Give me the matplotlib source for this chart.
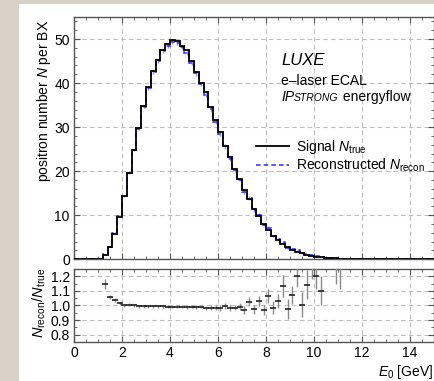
import numpy as np
import matplotlib
matplotlib.use("Agg")
import matplotlib.pyplot as plt
from matplotlib.patches import Rectangle
from matplotlib.ticker import MultipleLocator, FormatStrFormatter
from matplotlib.offsetbox import TextArea, HPacker, AnchoredOffsetbox

plt.rcParams['font.family'] = ['Liberation Sans', 'DejaVu Sans']
plt.rcParams['mathtext.fontset'] = 'custom'
plt.rcParams['mathtext.rm'] = 'Liberation Sans'
plt.rcParams['mathtext.it'] = 'Liberation Sans:italic'
plt.rcParams['mathtext.bf'] = 'Liberation Sans:bold'

# =========================
# DATA
# =========================

bin_width = 0.2
first_edge = 1.2      # first filled bin starts here
x_max = 15.0

# signal N_true per 0.2 GeV bin, bins from 1.2 GeV on
true_n = [1.0, 2.7, 5.8, 9.7, 14.4, 19.5, 24.8, 29.8, 34.8, 39.0,
          42.8, 45.3, 47.4, 48.8, 49.8, 49.5, 48.5, 47.4, 44.9, 42.6,
          40.1, 37.9, 34.5, 31.7, 29.0, 25.7, 23.3, 20.5, 18.2, 15.8,
          13.6, 11.4, 9.8, 8.0, 6.7, 5.3, 4.4, 3.5, 2.7, 2.1,
          1.7, 1.4, 1.0, 0.75, 0.6, 0.45, 0.35, 0.25, 0.2, 0.15,
          0.1, 0.05, 0.03, 0.02]

# reconstructed N_recon, same bins
recon_n = [1.15, 2.86, 6.02, 9.85, 14.4, 19.58, 24.8, 29.68, 34.63, 38.81,
           42.59, 45.12, 47.21, 48.41, 49.40, 49.10, 48.11, 46.78, 44.50, 42.22,
           39.82, 37.22, 34.02, 31.26, 28.48, 25.65, 22.83, 20.21, 18.07, 15.33,
           13.94, 11.12, 10.11, 7.74, 7.14, 5.23, 4.54, 3.97, 2.63, 2.25,
           2.05, 1.41, 1.14, 0.97, 0.72, 0.50, 0.35, 0.26, 0.2, 0.15,
           0.1, 0.05, 0.03, 0.02]

# ratio N_recon / N_true and its error, bins from 1.2 GeV on
ratio = [1.147, 1.06, 1.038, 1.015, 1.0, 1.004, 1.0, 0.996, 0.995, 0.995,
         0.995, 0.996, 0.996, 0.992, 0.992, 0.992, 0.992, 0.987, 0.991, 0.991,
         0.993, 0.982, 0.986, 0.986, 0.982, 0.998, 0.980, 0.986, 0.993, 0.970,
         1.025, 0.975, 1.032, 0.968, 1.066, 0.986, 1.032, 1.135, 0.975, 1.071,
         1.205, 1.005, 1.142, 1.29, 1.20, 1.10, np.nan, np.nan, 1.30, 1.30]
ratio_err = [0.035, 0.015, 0.012, 0.01, 0.01, 0.01, 0.01, 0.01, 0.01, 0.01,
             0.01, 0.01, 0.01, 0.01, 0.01, 0.01, 0.01, 0.01, 0.01, 0.012,
             0.013, 0.013, 0.014, 0.015, 0.018, 0.02, 0.02, 0.02, 0.022, 0.025,
             0.03, 0.03, 0.035, 0.035, 0.048, 0.045, 0.05, 0.074, 0.07, 0.063,
             0.08, 0.086, 0.1, 0.11, 0.09, 0.1, np.nan, np.nan, 0.15, 0.19]

# =========================
# BINNING
# =========================

edges = np.arange(0, x_max + bin_width / 2, bin_width)
n_bins = len(edges) - 1
start = int(round(first_edge / bin_width))

true_full = np.zeros(n_bins)
true_full[start:start + len(true_n)] = true_n
recon_full = np.zeros(n_bins)
recon_full[start:start + len(recon_n)] = recon_n
centers = 0.5 * (edges[:-1] + edges[1:])
c_true = centers[start:start + len(true_n)]
c_ratio = centers[start:start + len(ratio)]
recon_err = np.array(ratio_err[:len(recon_n)] + [0.05] * (len(recon_n) - len(ratio_err)))
recon_err = np.nan_to_num(recon_err, nan=0.1) * np.array(true_n)

# =========================
# FIGURE
# =========================

fig = plt.figure(figsize=(4.35, 3.81), dpi=100)
fig.patch.set_facecolor('#d8d1c7')
fig.patches.append(Rectangle((19 / 435, 0), 1, 1 - 4 / 381, transform=fig.transFigure,
                             facecolor='white', edgecolor='none', zorder=-10))

ax1 = fig.add_axes([0.1701, 0.3194, 0.8276, 0.6360])
ax2 = fig.add_axes([0.1701, 0.1024, 0.8276, 0.1916])

spine_col = '#555555'
grid_col = '#bdbdbd'

# main panel
ax1.errorbar(c_true, recon_n, yerr=recon_err, fmt='none', ecolor='#8c8cff', elinewidth=1.0, zorder=2)
ax1.stairs(recon_full, edges, color='#2b2bff', lw=1.1, ls=(0, (3, 2)), zorder=3,
           label=r'Reconstructed $N_{\mathrm{recon}}$')
ax1.stairs(true_full, edges, color='black', lw=1.3, zorder=4, label=r'Signal $N_{\mathrm{true}}$')

ax1.set_xlim(0, x_max)
ax1.set_ylim(0, 55)
ax1.xaxis.set_major_locator(MultipleLocator(2))
ax1.xaxis.set_minor_locator(MultipleLocator(0.5))
ax1.yaxis.set_major_locator(MultipleLocator(10))
ax1.yaxis.set_minor_locator(MultipleLocator(2))
ax1.tick_params(labelbottom=False)

# ratio panel
ax2.errorbar(c_ratio, ratio, yerr=ratio_err, fmt='_', color='#222222', ms=5, mew=1.2,
             ecolor='#8a8a8a', elinewidth=1.0, zorder=3)
ax2.set_xlim(0, x_max)
ax2.set_ylim(0.75, 1.25)
ax2.xaxis.set_major_locator(MultipleLocator(2))
ax2.xaxis.set_minor_locator(MultipleLocator(0.5))
ax2.yaxis.set_major_locator(MultipleLocator(0.1))
ax2.yaxis.set_minor_locator(MultipleLocator(0.05))
ax2.yaxis.set_major_formatter(FormatStrFormatter('%.1f'))

for ax in (ax1, ax2):
    ax.set_facecolor('white')
    ax.grid(which='major', ls=(0, (4, 3)), color=grid_col, lw=0.8, zorder=0)
    ax.tick_params(which='both', direction='in', top=True, right=True, color=spine_col,
                   labelsize=10, pad=3)
    ax.tick_params(which='major', length=4)
    ax.tick_params(which='minor', length=2)
    for s in ax.spines.values():
        s.set_color(spine_col)
        s.set_linewidth(1.0)

# legend
handles, labels = ax1.get_legend_handles_labels()
ax1.legend(handles[::-1], labels[::-1], loc='upper left', bbox_to_anchor=(0.505, 0.50),
           frameon=False, fontsize=10, handlelength=2.4, handletextpad=0.5,
           labelspacing=0.05, borderpad=0, borderaxespad=0)

# annotation text
ax1.text(0.575, 0.822, 'LUXE', style='italic', fontsize=12, transform=ax1.transAxes, va='center')
ax1.text(0.575, 0.737, 'e–laser ECAL', fontsize=10, transform=ax1.transAxes, va='center')
ip_line = HPacker(children=[TextArea('IP', textprops=dict(style='italic', size=10)),
                            TextArea('STRONG', textprops=dict(style='italic', size=7.5)),
                            TextArea(' energyflow', textprops=dict(size=10))],
                  align='baseline', pad=0, sep=0)
ax1.add_artist(AnchoredOffsetbox(loc='center left', child=ip_line, pad=0, borderpad=0,
                                 frameon=False, bbox_to_anchor=(0.575, 0.668),
                                 bbox_transform=ax1.transAxes))

# axis labels
fig.text(44 / 435, 1 - 101 / 381, r'positron number $N$ per BX', rotation=90,
         ha='center', va='center', fontsize=10)
fig.text(39 / 435, 1 - 303 / 381, r'$N_{\mathrm{recon}}/N_{\mathrm{true}}$', rotation=90,
         ha='center', va='center', fontsize=10.5)
fig.text(0.997, 1 - 372 / 381, r'$E_0$ [GeV]', ha='right', va='center', fontsize=10)

fig.savefig('out.png', dpi=100, facecolor=fig.get_facecolor())
